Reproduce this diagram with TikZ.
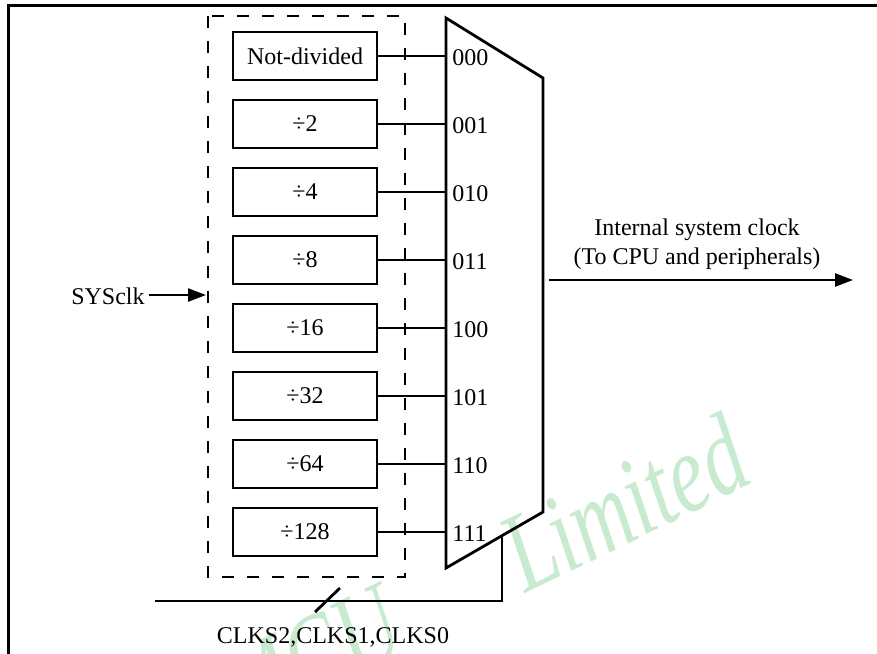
\documentclass[tikz,border=0pt]{standalone}
\usepackage{fontspec}
\setmainfont{Liberation Serif}
\usepackage{tikz}
\usetikzlibrary{arrows.meta,positioning,calc}
\usepackage{xcolor}
\definecolor{wmgreen}{RGB}{200,235,208}

\begin{document}
\begin{tikzpicture}[x=0.5pt, y=-0.5pt,
    divbox/.style={rectangle, draw, line width=1.3pt, minimum width=72pt,
                   minimum height=24pt, inner sep=0pt, align=center,
                   font=\fontsize{12}{14}\selectfont},
    sel/.style={anchor=west, inner sep=0pt, font=\fontsize{12}{14}\selectfont},
    wire/.style={line width=1.2pt},
    arrow/.style={line width=1.2pt, -{Triangle[length=9pt,width=6.5pt]}}
]
\useasboundingbox (0,0) rectangle (877,653);

% watermark
\node[rotate=26, yscale=1.35, anchor=base west, inner sep=0pt, text=wmgreen,
      font=\fontsize{42}{42}\selectfont\itshape] (wm) at (242,732) {MCU\hspace{64pt}Limited};

% outer frame
\draw[line width=1.5pt] (8,660) -- (8,5) -- (880,5);

% divider block
\draw[line width=1.2pt, dash pattern=on 6pt off 6.5pt] (208,16) rectangle (405,577);
\node[divbox] (d0) at (305,56)  {Not-divided};
\node[divbox] (d1) at (305,124) {÷2};
\node[divbox] (d2) at (305,192) {÷4};
\node[divbox] (d3) at (305,260) {÷8};
\node[divbox] (d4) at (305,328) {÷16};
\node[divbox] (d5) at (305,396) {÷32};
\node[divbox] (d6) at (305,464) {÷64};
\node[divbox] (d7) at (305,532) {÷128};

% multiplexer
\coordinate (mtl) at (446,18);
\coordinate (mtr) at (543,78);
\coordinate (mbr) at (543,512);
\coordinate (mbl) at (446,568);
\draw[line width=1.4pt, line join=miter] (mtl) -- (mtr) -- (mbr) -- (mbl) -- cycle;

\coordinate (m0) at (446,56);
\coordinate (m1) at (446,124);
\coordinate (m2) at (446,192);
\coordinate (m3) at (446,260);
\coordinate (m4) at (446,328);
\coordinate (m5) at (446,396);
\coordinate (m6) at (446,464);
\coordinate (m7) at (446,532);

\draw[wire] (d0.east) -- (m0);
\draw[wire] (d1.east) -- (m1);
\draw[wire] (d2.east) -- (m2);
\draw[wire] (d3.east) -- (m3);
\draw[wire] (d4.east) -- (m4);
\draw[wire] (d5.east) -- (m5);
\draw[wire] (d6.east) -- (m6);
\draw[wire] (d7.east) -- (m7);

\node[sel] (s0) at (452,58)  {000};
\node[sel] (s1) at (452,126) {001};
\node[sel] (s2) at (452,194) {010};
\node[sel] (s3) at (452,262) {011};
\node[sel] (s4) at (452,330) {100};
\node[sel] (s5) at (452,398) {101};
\node[sel] (s6) at (452,466) {110};
\node[sel] (s7) at (452,534) {111};

% clock input
\node[font=\fontsize{12}{14}\selectfont, inner sep=0pt] (sys) at (108,296) {SYSclk};
\coordinate (sysin) at (206,295);
\draw[arrow] (sys.east) ++(4,-1) coordinate (sysout) -- (sysin);

% output
\coordinate (outa) at (549,280);
\coordinate (outb) at (853,280);
\draw[arrow] (outa) -- (outb);
\node[align=center, font=\fontsize{12}{14.5}\selectfont, inner sep=0pt] (outlbl) at (697,244)
    {Internal system clock\\(To CPU and peripherals)};

% select lines
\coordinate (cin) at (155,601);
\coordinate (ccorner) at (502,601);
\coordinate (cend) at (502,536);
\draw[line width=1.4pt] (cin) -- (ccorner) -- (cend);
\coordinate (slasha) at (315,612);
\coordinate (slashb) at (340,588);
\draw[line width=1.4pt] (slasha) -- (slashb);
\node[font=\fontsize{12}{14}\selectfont, inner sep=0pt] (clks) at (333,637) {CLKS2,CLKS1,CLKS0};
\end{tikzpicture}
\end{document}
